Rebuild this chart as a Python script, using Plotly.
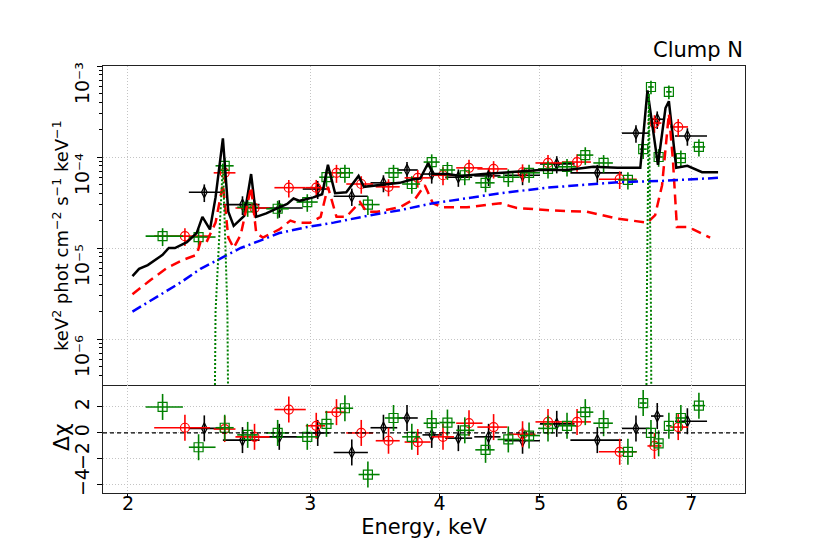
import plotly.graph_objects as go
from plotly.subplots import make_subplots

# ---------------- data ----------------
# black data set (diamonds)
blk_E = [2.37, 2.58, 2.80, 3.05, 3.29, 3.53, 3.72, 3.93, 4.17, 4.46, 4.81, 5.19, 5.68, 6.19, 6.49, 6.94]
blk_lo = [2.29, 2.47, 2.64, 2.95, 3.16, 3.43, 3.64, 3.85, 4.05, 4.32, 4.62, 5.00, 5.35, 6.00, 6.40, 6.75]
blk_hi = [2.47, 2.68, 2.95, 3.13, 3.41, 3.64, 3.81, 4.02, 4.30, 4.58, 5.00, 5.40, 6.00, 6.38, 6.58, 7.25]
blk_F = [4.1e-5, 3.0e-5, 2.75e-5, 4.45e-5, 3.7e-5, 5.2e-5, 7.2e-5, 6.5e-5, 6.0e-5, 6.2e-5, 6.3e-5,
         8.4e-5, 6.7e-5, 1.83e-4, 2.6e-4, 1.7e-4]
blk_err = [0.9e-5, 0.7e-5, 0.6e-5, 1.0e-5, 0.8e-5, 1.1e-5, 1.6e-5, 1.4e-5, 1.3e-5, 1.4e-5, 1.4e-5,
           1.8e-5, 1.5e-5, 4.0e-5, 5.7e-5, 3.7e-5]
blk_res = [0.35, -0.55, -0.3, 0.0, -1.5, 0.4, 1.15, -0.15, -0.4, -0.3, -0.6, 0.7, -0.55, 0.35, 1.3, 0.9]

# red data set (circles)
red_E = [2.27, 2.48, 2.65, 2.86, 3.04, 3.18, 3.36, 3.57, 3.81, 4.03, 4.27, 4.51, 4.81, 5.09, 5.43, 5.97, 6.45, 6.80]
red_lo = [2.12, 2.42, 2.54, 2.77, 2.97, 3.10, 3.25, 3.47, 3.70, 3.93, 4.15, 4.35, 4.65, 4.95, 5.25, 5.70, 6.35, 6.68]
red_hi = [2.40, 2.54, 2.74, 2.97, 3.10, 3.25, 3.45, 3.66, 3.92, 4.13, 4.40, 4.65, 4.95, 5.25, 5.60, 6.20, 6.55, 6.95]
red_F = [1.35e-5, 6.7e-5, 2.75e-5, 4.6e-5, 4.6e-5, 6.7e-5, 5.05e-5, 4.7e-5, 5.9e-5, 6.3e-5, 7.6e-5,
         7.4e-5, 6.8e-5, 8.6e-5, 8.8e-5, 5.7e-5, 2.36e-4, 2.14e-4]
red_err = [3.0e-6, 1.5e-5, 6e-6, 1.0e-5, 1.0e-5, 1.5e-5, 1.1e-5, 1.0e-5, 1.3e-5, 1.4e-5, 1.7e-5,
           1.6e-5, 1.5e-5, 1.9e-5, 1.9e-5, 1.25e-5, 5.2e-5, 4.7e-5]
red_res = [0.4, 0.3, -0.3, 1.8, 0.55, 1.6, 0.0, -0.6, -0.7, -0.3, 0.75, 0.45, -0.1, 0.85, 0.85, -1.45, -1.0, 0.45]

# green data set (squares)
grn_E = [2.16, 2.34, 2.48, 2.61, 2.79, 2.98, 3.11, 3.24, 3.41, 3.61, 3.76, 3.93, 4.07, 4.23, 4.43, 4.66,
         4.88, 5.09, 5.31, 5.53, 5.76, 6.08, 6.29, 6.40, 6.51, 6.66, 6.84, 7.12]
grn_lo = [2.08, 2.29, 2.43, 2.55, 2.72, 2.91, 3.06, 3.18, 3.34, 3.54, 3.68, 3.86, 4.00, 4.15, 4.33, 4.55,
          4.78, 4.98, 5.20, 5.43, 5.63, 5.95, 6.24, 6.36, 6.46, 6.62, 6.76, 7.02]
grn_hi = [2.26, 2.43, 2.53, 2.67, 2.86, 3.05, 3.16, 3.30, 3.50, 3.68, 3.83, 4.00, 4.14, 4.32, 4.52, 4.78,
          5.00, 5.20, 5.42, 5.63, 5.88, 6.20, 6.34, 6.44, 6.57, 6.70, 6.92, 7.22]
grn_F = [1.35e-5, 1.32e-5, 8.0e-5, 2.8e-5, 2.7e-5, 3.2e-5, 6.0e-5, 6.7e-5, 3.0e-5, 6.7e-5, 5.05e-5,
         8.8e-5, 7.2e-5, 6.3e-5, 5.2e-5, 6.0e-5, 6.7e-5, 7.4e-5, 7.8e-5, 1.05e-4, 8.6e-5, 5.6e-5,
         1.22e-4, 5.88e-4, 1.0e-4, 5.2e-4, 9.7e-5, 1.29e-4]
grn_err = [3.0e-6, 3.0e-6, 1.8e-5, 6e-6, 6e-6, 7e-6, 1.3e-5, 1.5e-5, 7e-6, 1.5e-5, 1.1e-5,
           1.9e-5, 1.6e-5, 1.4e-5, 1.1e-5, 1.3e-5, 1.5e-5, 1.6e-5, 1.7e-5, 2.3e-5, 1.9e-5, 1.2e-5,
           2.7e-5, 1.0e-4, 2.2e-5, 9e-5, 2.1e-5, 2.8e-5]
grn_res = [2.0, -1.1, 0.4, -0.15, 0.0, -0.3, 0.7, 1.9, -3.2, 1.15, -0.3, 0.75, 0.8, 0.2, -1.3, -0.5,
           -0.2, 0.35, 0.55, 1.6, 0.75, -1.45, 2.3, 0.0, -0.8, 0.55, 1.15, 2.1]

# total model (black solid)
tot_E = [2.02, 2.05, 2.09, 2.16, 2.19, 2.22, 2.28, 2.33, 2.36, 2.40, 2.43, 2.47, 2.50, 2.53, 2.59, 2.63,
         2.66, 2.72, 2.79, 2.85, 2.89, 2.93, 3.02, 3.08, 3.12, 3.17, 3.25, 3.34, 3.38, 3.48, 3.66, 3.77,
         3.83, 3.90, 3.94, 4.07, 4.19, 4.41, 4.58, 4.75, 5.00, 5.31, 5.63, 5.94, 6.25, 6.35, 6.50, 6.61,
         6.66, 6.77, 6.94, 7.17, 7.43]
tot_F = [4.9e-6, 5.9e-6, 6.5e-6, 8.4e-6, 1.0e-5, 1.0e-5, 1.16e-5, 1.46e-5, 2.2e-5, 1.6e-5, 3.6e-5, 1.6e-4,
         2.5e-5, 1.75e-5, 2.25e-5, 6.5e-5, 2.2e-5, 2.4e-5, 2.75e-5, 3.05e-5, 3.5e-5, 3.3e-5, 3.6e-5,
         3.9e-5, 8.2e-5, 4.0e-5, 4.1e-5, 6.2e-5, 4.7e-5, 4.9e-5, 5.2e-5, 5.7e-5, 5.8e-5, 8.6e-5, 6.5e-5,
         6.5e-5, 6.2e-5, 6.5e-5, 6.7e-5, 6.8e-5, 7.2e-5, 7.2e-5, 7.8e-5, 7.6e-5, 7.6e-5, 5.4e-4, 8.2e-5,
         3.45e-4, 4.1e-4, 7.6e-5, 8.0e-5, 6.8e-5, 6.8e-5]

# thermal component (red dashed)
th_E = [2.02, 2.10, 2.18, 2.26, 2.33, 2.35, 2.38, 2.43, 2.47, 2.50, 2.53, 2.57, 2.63, 2.66, 2.70, 2.80,
        2.87, 2.91, 3.00, 3.07, 3.12, 3.18, 3.25, 3.35, 3.40, 3.48, 3.66, 3.79, 3.87, 3.94, 4.03, 4.25,
        4.58, 4.75, 5.11, 5.55, 5.94, 6.35, 6.46, 6.56, 6.66, 6.72, 6.78, 6.94, 7.03, 7.30]
th_F = [3.1e-6, 4.4e-6, 6.0e-6, 7.4e-6, 8.4e-6, 1.16e-5, 1.14e-5, 1.9e-5, 5.0e-5, 1.3e-5, 1.0e-5, 1.4e-5,
        4.7e-5, 1.46e-5, 1.3e-5, 1.6e-5, 2.0e-5, 1.9e-5, 1.9e-5, 2.2e-5, 4.7e-5, 2.2e-5, 2.2e-5, 3.2e-5,
        2.5e-5, 2.5e-5, 2.8e-5, 3.5e-5, 4.9e-5, 3.1e-5, 2.8e-5, 2.8e-5, 3.1e-5, 2.75e-5, 2.6e-5, 2.5e-5,
        2.1e-5, 1.9e-5, 2.3e-5, 4.9e-5, 3.0e-4, 9.3e-5, 1.7e-5, 1.7e-5, 1.6e-5, 1.3e-5]

# power law component (blue dash-dot)
pl_E = [2.02, 2.11, 2.25, 2.35, 2.45, 2.57, 2.68, 2.80, 2.98, 3.16, 3.40, 3.66, 3.94, 4.25, 4.58, 5.08,
        5.47, 5.98, 6.53, 7.43]
pl_F = [2.0e-6, 2.7e-6, 4.2e-6, 5.9e-6, 7.6e-6, 1.0e-5, 1.2e-5, 1.46e-5, 1.7e-5, 1.9e-5, 2.25e-5, 2.6e-5,
        3.1e-5, 3.5e-5, 4.0e-5, 4.6e-5, 4.9e-5, 5.3e-5, 5.45e-5, 5.9e-5]

# narrow gaussian lines (green dotted)
ga_E = [2.405, 2.43, 2.47, 2.495, 2.52, None, 6.31, 6.34, 6.37, 6.40, 6.43]
ga_F = [1e-12, 2e-6, 8.5e-5, 2e-6, 1e-12, None, 1e-12, 2e-6, 5.0e-4, 2e-6, 1e-12]

FONT = 'DejaVu Sans'

fig = make_subplots(rows=2, cols=1, shared_xaxes=True, vertical_spacing=0,
                    row_heights=[0.747, 0.253])


def add_set(E, lo, hi, F, Ferr, res, color, symbol, size):
    ex_p = [h - e for e, h in zip(E, hi)]
    ex_m = [e - l for e, l in zip(E, lo)]
    marker = dict(symbol=symbol, size=size, color=color, line=dict(color=color, width=1.2))
    errx = dict(type='data', array=ex_p, arrayminus=ex_m, color=color, thickness=1.6, width=0)
    fig.add_trace(go.Scatter(
        x=E, y=F, mode='markers', marker=marker, error_x=errx,
        error_y=dict(type='data', array=Ferr, color=color, thickness=1.6, width=0),
        showlegend=False), row=1, col=1)
    fig.add_trace(go.Scatter(
        x=E, y=res, mode='markers', marker=marker, error_x=errx,
        error_y=dict(type='constant', value=1, color=color, thickness=1.6, width=0),
        showlegend=False), row=2, col=1)


add_set(blk_E, blk_lo, blk_hi, blk_F, blk_err, blk_res, 'black', 'diamond-tall-open', 8)
add_set(red_E, red_lo, red_hi, red_F, red_err, red_res, 'red', 'circle-open', 9)
add_set(grn_E, grn_lo, grn_hi, grn_F, grn_err, grn_res, 'green', 'square-open', 9)

fig.add_trace(go.Scatter(x=tot_E, y=tot_F, mode='lines', line=dict(color='black', width=2.5),
                         showlegend=False), row=1, col=1)
fig.add_trace(go.Scatter(x=th_E, y=th_F, mode='lines',
                         line=dict(color='red', width=2.5, dash='10px,6px'),
                         showlegend=False), row=1, col=1)
fig.add_trace(go.Scatter(x=pl_E, y=pl_F, mode='lines',
                         line=dict(color='blue', width=2.5, dash='10px,4px,2px,4px'),
                         showlegend=False), row=1, col=1)
fig.add_trace(go.Scatter(x=ga_E, y=ga_F, mode='lines', connectgaps=False,
                         line=dict(color='green', width=2, dash='2px,2px'),
                         showlegend=False), row=1, col=1)

fig.add_hline(y=0, line=dict(color='black', width=1.2, dash='4px,3px'), row=2, col=1)

grid = dict(showgrid=True, gridcolor='#c4c4c4', griddash='1px,2px', gridwidth=1)
frame = dict(showline=True, linecolor='#222222', linewidth=1)

xticks = [2, 3, 4, 5, 6, 7]
fig.update_xaxes(type='log', range=[0.2769, 0.897], tickvals=xticks,
                 zeroline=False, **grid, **frame)
fig.update_xaxes(showticklabels=False, ticks='', mirror=True, row=1, col=1)
fig.update_xaxes(showticklabels=True, ticks='outside', ticklen=4, tickcolor='black', mirror=False,
                 ticktext=[str(v) for v in xticks], ticklabelstandoff=-11,
                 tickfont=dict(size=19, color='black', family=FONT),
                 title=dict(text='Energy, keV', font=dict(size=21, color='black', family=FONT),
                            standoff=6),
                 row=2, col=1)

ydec = [1e-6, 1e-5, 1e-4, 1e-3]
ylab = ['10\u207b\u2076', '10\u207b\u2075', '10\u207b\u2074', '10\u207b\u00b3']
yminor = [m * 10.0 ** p for p in range(-7, -3) for m in range(2, 10)]
fig.update_yaxes(type='log', range=[-6.505, -3.0], tickvals=ydec, ticktext=ylab, tickangle=-90,
                 ticklabelshift=20,
                 ticks='outside', ticklen=5, tickcolor='black', mirror=True,
                 minor=dict(tickvals=yminor, ticks='outside', ticklen=3, tickcolor='black', showgrid=False),
                 tickfont=dict(size=19, color='black', family=FONT),
                 zeroline=False, **grid, **frame, row=1, col=1)
fig.update_yaxes(range=[-4.62, 3.69], tickvals=[-4, -2, 0, 2], tickangle=-90,
                 ticks='outside', ticklen=5, tickcolor='black', mirror=True,
                 tickfont=dict(size=19, color='black', family=FONT),
                 zeroline=False, **grid, **frame, row=2, col=1)

# axis titles placed as annotations so they sit where the reference has them
fig.add_annotation(text='keV<sup>2</sup> phot cm<sup>\u22122</sup> s<sup>\u22121</sup> keV<sup>\u22121</sup>',
                   xref='paper', yref='paper', x=-0.0655, y=0.604, textangle=-90,
                   xanchor='center', yanchor='middle', showarrow=False,
                   font=dict(size=18, color='black', family=FONT))
fig.add_annotation(text='\u0394\u03c7', xref='paper', yref='paper', x=-0.0655, y=0.131,
                   textangle=-90, xanchor='center', yanchor='middle', showarrow=False,
                   font=dict(size=22, color='black', family=FONT))
fig.add_annotation(text='Clump N', xref='paper', yref='paper', x=1.0, y=1.0, yshift=2,
                   xanchor='right', yanchor='bottom', showarrow=False,
                   font=dict(size=21, color='black', family=FONT))

# the page body adds an 8px offset, so margins are shifted to keep the axes box in place
fig.update_layout(width=830, height=554, margin=dict(l=95, r=93, t=58, b=69),
                  paper_bgcolor='white', plot_bgcolor='white', showlegend=False,
                  font=dict(family=FONT, color='black'))

fig.write_html('out.html')
